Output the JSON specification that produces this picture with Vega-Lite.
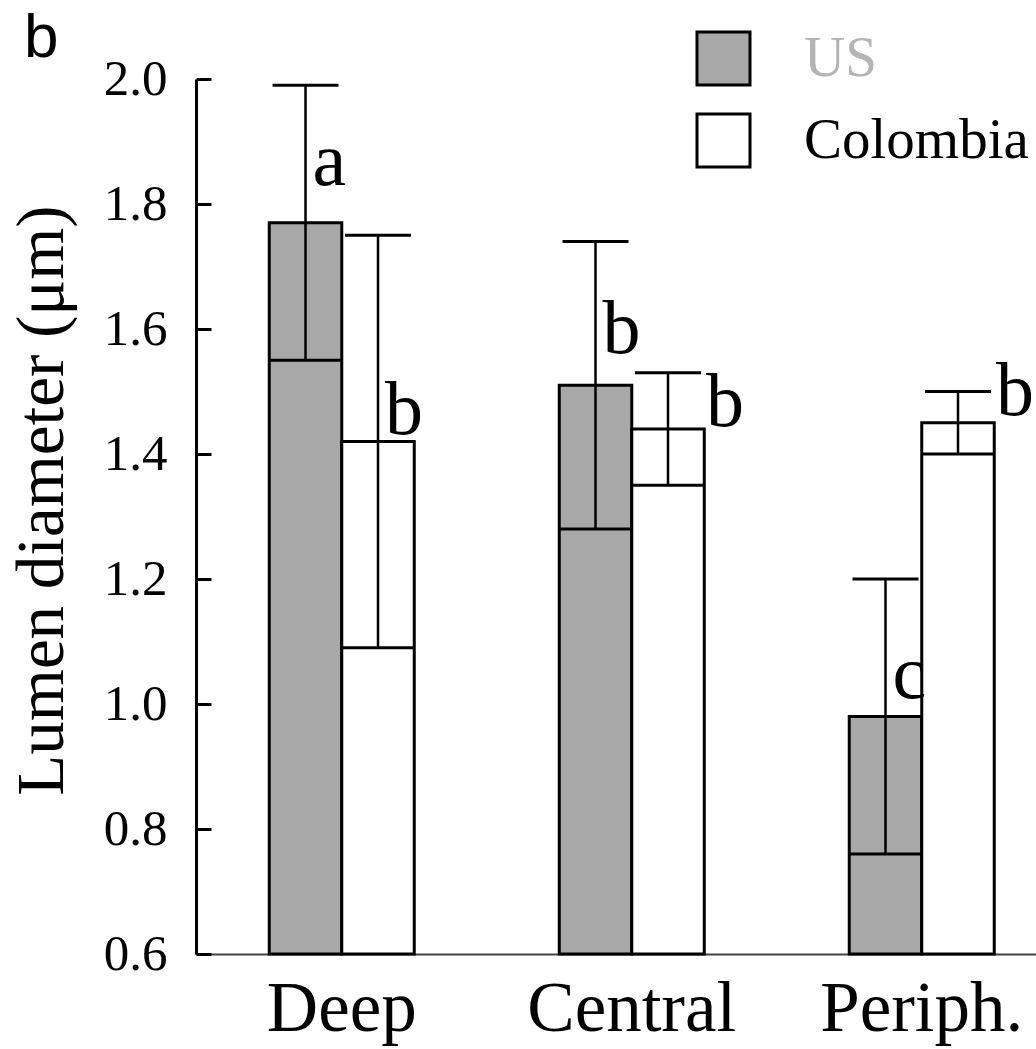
{
  "$schema": "https://vega.github.io/schema/vega-lite/v6.json",
  "autosize": {"type": "none"},
  "padding": {"left": 196, "top": 79, "right": 0, "bottom": 95},
  "width": 840,
  "height": 875,
  "background": "white",
  "title": {
    "text": "b",
    "anchor": "start",
    "frame": "group",
    "font": "Liberation Sans",
    "fontSize": 62,
    "fontWeight": "normal",
    "color": "#000000",
    "baseline": "alphabetic",
    "dx": -172,
    "offset": -89
  },
  "datasets": {
    "bars": [
      {"category": "Deep", "group": "US", "mean": 1.77, "low": 1.55, "high": 1.99},
      {"category": "Deep", "group": "Colombia", "mean": 1.42, "low": 1.09, "high": 1.75},
      {"category": "Central", "group": "US", "mean": 1.51, "low": 1.28, "high": 1.74},
      {"category": "Central", "group": "Colombia", "mean": 1.44, "low": 1.35, "high": 1.53},
      {"category": "Periph.", "group": "US", "mean": 0.98, "low": 0.76, "high": 1.2},
      {"category": "Periph.", "group": "Colombia", "mean": 1.45, "low": 1.4, "high": 1.5}
    ],
    "letters": [
      {"category": "Deep", "group": "US", "letter": "a", "y": 1.83, "side": "inner"},
      {"category": "Deep", "group": "Colombia", "letter": "b", "y": 1.432, "side": "inner"},
      {"category": "Central", "group": "US", "letter": "b", "y": 1.562, "side": "inner"},
      {"category": "Central", "group": "Colombia", "letter": "b", "y": 1.445, "side": "outer"},
      {"category": "Periph.", "group": "US", "letter": "c", "y": 1.01, "side": "inner"},
      {"category": "Periph.", "group": "Colombia", "letter": "b", "y": 1.462, "side": "outer"}
    ]
  },
  "encoding": {
    "x": {
      "field": "category",
      "type": "nominal",
      "sort": ["Deep", "Central", "Periph."],
      "scale": {"paddingInner": 0.5, "paddingOuter": 0.1983, "align": 0.637, "round": false},
      "axis": {
        "title": null,
        "labelAngle": 0,
        "labelFont": "Liberation Serif",
        "labelFontSize": 71,
        "labelColor": "#000000",
        "labelPadding": 20,
        "labelLimit": 500,
        "labelOverlap": false,
        "ticks": false,
        "domainColor": "#444444",
        "domainWidth": 2
      }
    },
    "xOffset": {
      "field": "group",
      "type": "nominal",
      "sort": ["US", "Colombia"],
      "scale": {"paddingInner": 0, "paddingOuter": 0}
    }
  },
  "layer": [
    {
      "data": {"name": "bars"},
      "mark": {"type": "bar", "stroke": "#000000", "strokeWidth": 3},
      "encoding": {
        "y": {
          "field": "mean",
          "type": "quantitative",
          "scale": {"domain": [0.6, 2.0], "nice": false, "zero": false},
          "axis": {
            "title": "Lumen diameter (μm)",
            "titleFont": "Liberation Serif",
            "titleFontSize": 67,
            "titleFontWeight": "normal",
            "titleColor": "#000000",
            "titlePadding": 27,
            "titleY": 421,
            "values": [0.6, 0.8, 1.0, 1.2, 1.4, 1.6, 1.8, 2.0],
            "format": ".1f",
            "labelFont": "Liberation Serif",
            "labelFontSize": 51,
            "labelColor": "#000000",
            "tickSize": -15,
            "tickWidth": 3,
            "tickColor": "#000000",
            "labelPadding": 44,
            "domainColor": "#000000",
            "domainWidth": 3,
            "grid": false
          }
        },
        "y2": {"datum": 0.6},
        "fill": {
          "field": "group",
          "type": "nominal",
          "scale": {"domain": ["US", "Colombia"], "range": ["#a8a8a8", "#ffffff"]},
          "legend": {
            "title": null,
            "orient": "none",
            "legendX": 499,
            "legendY": -49,
            "padding": 0,
            "symbolType": "square",
            "symbolSize": 2809,
            "symbolStrokeColor": "#000000",
            "symbolStrokeWidth": 3,
            "symbolOpacity": 1,
            "labelFont": "Liberation Serif",
            "labelFontSize": 57,
            "labelColor": "#000000",
            "labelOffset": 52,
            "rowPadding": 17,
            "labelLimit": 400,
            "encode": {
              "labels": {
                "update": {
                  "fill": {"signal": "datum.label === 'US' ? '#b4b4b4' : '#000000'"}
                }
              },
              "symbols": {
                "update": {
                  "fill": {"signal": "datum.label === 'US' ? '#a8a8a8' : '#ffffff'"},
                  "stroke": {"value": "#000000"},
                  "opacity": {"value": 1}
                }
              }
            }
          }
        }
      }
    },
    {
      "data": {"name": "bars"},
      "mark": {"type": "rule", "color": "#000000", "strokeWidth": 2.5},
      "encoding": {
        "y": {"field": "low", "type": "quantitative"},
        "y2": {"field": "high"}
      }
    },
    {
      "data": {"name": "bars"},
      "mark": {"type": "tick", "color": "#000000", "thickness": 3, "size": 66, "orient": "horizontal", "opacity": 1},
      "encoding": {
        "y": {"field": "high", "type": "quantitative"}
      }
    },
    {
      "data": {"name": "bars"},
      "mark": {"type": "tick", "color": "#000000", "thickness": 3, "size": 72, "orient": "horizontal", "opacity": 1},
      "encoding": {
        "y": {"field": "low", "type": "quantitative"}
      }
    },
    {
      "data": {"name": "letters"},
      "transform": [{"filter": "datum.side === 'inner'"}],
      "mark": {"type": "text", "font": "Liberation Serif", "fontSize": 76, "align": "left", "baseline": "alphabetic", "dx": 7, "color": "#000000"},
      "encoding": {
        "y": {"field": "y", "type": "quantitative"},
        "text": {"field": "letter"}
      }
    },
    {
      "data": {"name": "letters"},
      "transform": [{"filter": "datum.side === 'outer'"}],
      "mark": {"type": "text", "font": "Liberation Serif", "fontSize": 76, "align": "left", "baseline": "alphabetic", "dx": 38, "color": "#000000"},
      "encoding": {
        "y": {"field": "y", "type": "quantitative"},
        "text": {"field": "letter"}
      }
    }
  ],
  "config": {
    "view": {"stroke": null},
    "font": "Liberation Serif",
    "axis": {"titleFont": "Liberation Serif", "labelFont": "Liberation Serif"}
  }
}
